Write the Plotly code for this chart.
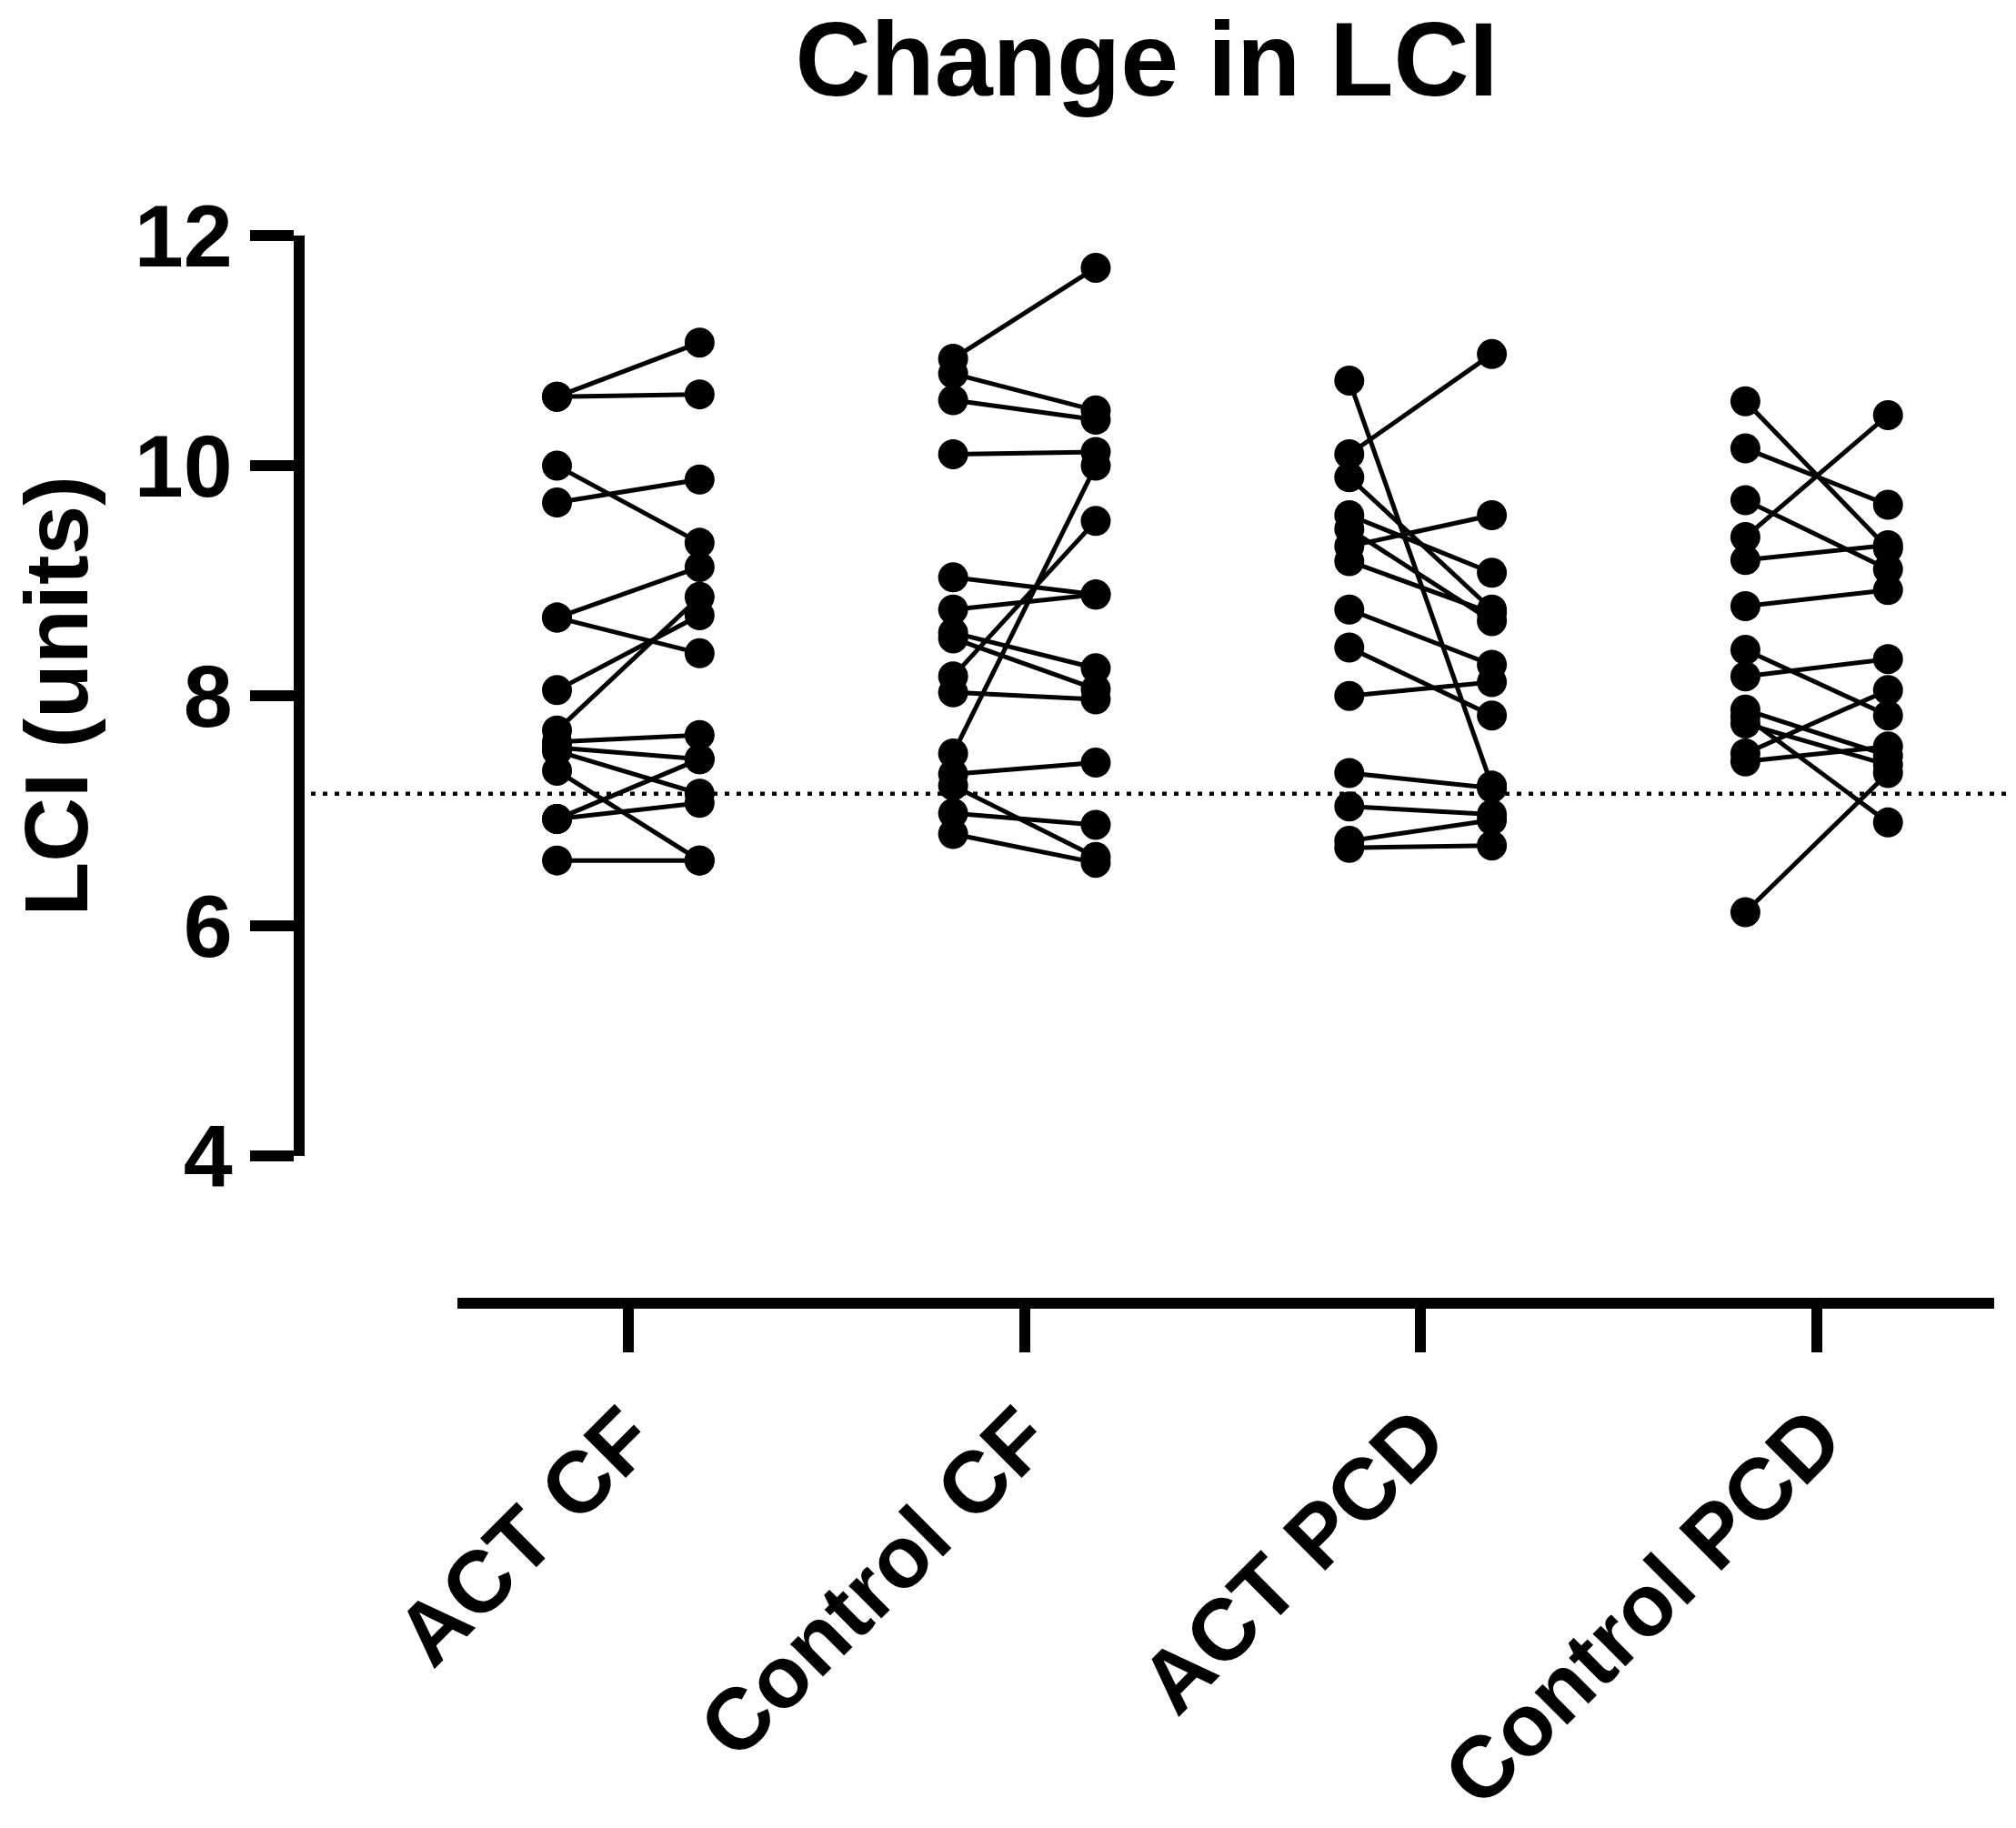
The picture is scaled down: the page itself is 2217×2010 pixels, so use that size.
import plotly.graph_objects as go

# groups on the x axis
categories = ["ACT CF", "Control CF", "ACT PCD", "Control PCD"]

# paired LCI values (before, after) per subject
act_cf_pre = [10.60, 10.60, 10.00, 9.68, 8.68, 8.68, 8.05, 7.70, 7.60, 7.55, 7.52, 7.35, 6.93, 6.93, 6.57]
act_cf_post = [11.07, 10.62, 9.33, 9.88, 9.12, 8.37, 8.70, 8.86, 7.66, 7.45, 7.15, 6.57, 7.45, 7.07, 6.57]

control_cf_pre = [10.93, 10.80, 10.57, 10.10, 9.03, 8.75, 8.55, 8.50, 8.17, 8.03, 7.50, 7.32, 7.22, 6.98, 6.80]
control_cf_post = [11.72, 10.48, 10.40, 10.12, 8.88, 8.88, 8.24, 8.06, 9.52, 7.97, 10.00, 7.42, 6.60, 6.88, 6.55]

act_pcd_pre = [10.74, 10.10, 9.90, 9.57, 9.45, 9.30, 9.17, 8.75, 8.42, 8.00, 7.33, 7.04, 6.74, 6.68]
act_pcd_post = [7.22, 10.97, 8.75, 9.07, 8.65, 9.57, 8.72, 8.27, 7.83, 8.12, 7.20, 6.97, 6.92, 6.70]

control_pcd_pre = [10.56, 10.15, 9.70, 9.38, 9.18, 8.78, 8.40, 8.17, 7.88, 7.82, 7.76, 7.50, 7.43, 6.12]
control_pcd_post = [9.28, 9.66, 9.10, 10.44, 9.31, 8.92, 7.83, 8.32, 7.48, 6.90, 7.40, 8.05, 7.56, 7.33]

groups = [
    (act_cf_pre, act_cf_post),
    (control_cf_pre, control_cf_post),
    (act_pcd_pre, act_pcd_post),
    (control_pcd_pre, control_pcd_post),
]

reference_lci = 7.15
y_ticks = [4, 6, 8, 10, 12]
offset = 0.18

font_name = "Liberation Sans, Arial, sans-serif"

fig = go.Figure()

for i, (pre, post) in enumerate(groups):
    xs, ys = [], []
    for a, b in zip(pre, post):
        xs += [i - offset, i + offset, None]
        ys += [a, b, None]
    fig.add_trace(go.Scatter(
        x=xs, y=ys,
        mode="lines+markers",
        line=dict(color="black", width=5),
        marker=dict(color="black", size=33),
        cliponaxis=False,
        showlegend=False,
    ))

# dotted reference line
fig.add_shape(
    type="line", xref="paper", yref="y",
    x0=0, x1=1.013, y0=reference_lci, y1=reference_lci,
    line=dict(color="black", width=4.5, dash="5px,8px"),
    layer="below",
)

fig.add_annotation(
    text="<b>LCI (units)</b>", textangle=-90,
    xref="paper", yref="y", x=-0.143, y=8,
    xanchor="center", yanchor="middle",
    showarrow=False, font=dict(family=font_name, size=98, color="black"),
)

fig.update_layout(
    width=2217, height=2010,
    paper_bgcolor="white", plot_bgcolor="white",
    margin=dict(l=321, r=32, t=251, b=517),
    title=dict(
        text="<b>Change in LCI</b>", x=0.5, xref="paper",
        y=1, yanchor="top", pad=dict(t=16),
        font=dict(family=font_name, size=115, color="black"),
    ),
    font=dict(family=font_name, color="black"),
    xaxis=dict(
        domain=[0.0933, 1], anchor="free", position=0,
        range=[-0.4316, 3.448],
        tickvals=list(range(len(categories))),
        ticktext=["<b>%s</b>" % c for c in categories],
        tickangle=-45,
        tickfont=dict(family=font_name, size=96, color="black"),
        ticks="outside", ticklen=48, tickwidth=12, tickcolor="black",
        showline=True, linewidth=12, linecolor="black",
        showgrid=False, zeroline=False,
    ),
    yaxis=dict(
        domain=[0.1377, 1], anchor="free", position=0,
        range=[4, 12],
        tickvals=y_ticks,
        ticktext=["<b>%d</b>" % t for t in y_ticks],
        tickfont=dict(family=font_name, size=97, color="black"),
        ticks="outside", ticklen=48, tickwidth=12, tickcolor="black",
        showline=True, linewidth=12, linecolor="black",
        showgrid=False, zeroline=False,
    ),
)

fig.write_html("out.html")
